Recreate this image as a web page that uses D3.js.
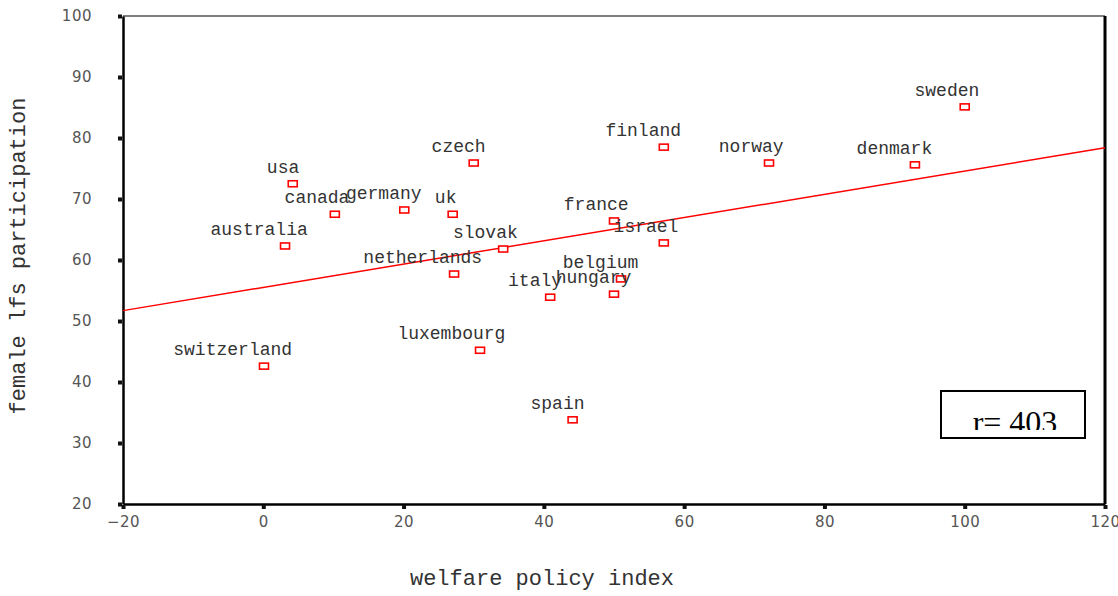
<!DOCTYPE html>
<html>
<head>
<meta charset="utf-8">
<script src="https://cdn.jsdelivr.net/npm/d3@7"></script>
<style>
  body { margin: 0; background: #fff; }
  svg { display: block; }
</style>
</head>
<body>
<script>
'use strict';

// countries and their values
var countries = ["sweden", "denmark", "norway", "finland", "czech", "usa", "canada", "germany", "uk",
                 "australia", "slovak", "france", "israel", "netherlands", "belgium", "italy",
                 "hungary", "luxembourg", "switzerland", "spain"];
var welfare = [100.0, 92.9, 72.1, 57.1, 30.0, 4.2, 10.2, 20.1, 27.0,
               3.1, 34.2, 50.0, 57.1, 27.2, 51.0, 40.9,
               50.0, 30.9, 0.1, 44.1];
var femaleLfs = [85.1, 75.6, 75.9, 78.5, 75.9, 72.5, 67.5, 68.2, 67.5,
                 62.3, 61.8, 66.4, 62.8, 57.7, 56.9, 53.9,
                 54.4, 45.2, 42.6, 33.8];

// fitted line, ends read at the plot edges
var fitX = [-20, 120];
var fitY = [51.7, 78.4];

var xTicks = [-20, 0, 20, 40, 60, 80, 100, 120];
var yTicks = [20, 30, 40, 50, 60, 70, 80, 90, 100];
var rLabel = "r= 403";

var data = countries.map(function(c, i) { return {name: c, x: welfare[i], y: femaleLfs[i]}; });

var svg = d3.select("body").append("svg")
    .attr("width", 1118)
    .attr("height", 596);

var margin = {top: 16, right: 13, bottom: 92, left: 123},
    width = 1118 - margin.left - margin.right,
    height = 596 - margin.top - margin.bottom;

var g = svg.append("g")
    .attr("transform", "translate(" + margin.left + "," + margin.top + ")");

var xScale = d3.scaleLinear().domain([-20, 120]).range([0, width]);
var yScale = d3.scaleLinear().domain([20, 100]).range([height, 0]);

// frame: thin top, thick right
g.append("line")
    .attr("x1", 0).attr("x2", width).attr("y1", 0).attr("y2", 0)
    .attr("stroke", "#555").attr("stroke-width", 1.5);
g.append("line")
    .attr("x1", width).attr("x2", width).attr("y1", 0).attr("y2", height)
    .attr("stroke", "#000").attr("stroke-width", 3);

// axes
var xAxis = g.append("g")
    .attr("transform", "translate(0," + height + ")")
    .call(d3.axisBottom(xScale).tickValues(xTicks).tickSize(0).tickPadding(12).tickFormat(d3.format("d")));
var yAxis = g.append("g")
    .call(d3.axisLeft(yScale).tickValues(yTicks).tickSize(0).tickPadding(31).tickFormat(d3.format("d")));

[xAxis, yAxis].forEach(function(ax) {
    ax.select(".domain").attr("stroke", "#000").attr("stroke-width", 2.5);
    ax.selectAll("text")
        .attr("font-family", "'DejaVu Sans', sans-serif")
        .attr("font-size", 15)
        .attr("fill", "#555")
        .attr("letter-spacing", 0.5);
});

// small square tick marks
xAxis.selectAll(".tick").append("rect")
    .attr("x", -2).attr("y", 1).attr("width", 4).attr("height", 4).attr("fill", "#111");
yAxis.selectAll(".tick").append("rect")
    .attr("x", -5).attr("y", -2).attr("width", 4).attr("height", 4).attr("fill", "#111");

// axis titles
svg.append("text")
    .attr("x", 542)
    .attr("y", 585)
    .attr("text-anchor", "middle")
    .attr("font-family", "'Liberation Mono', monospace")
    .attr("font-size", 22)
    .attr("fill", "#333")
    .text("welfare policy index");

svg.append("text")
    .attr("transform", "translate(25," + (margin.top + yScale(60) - 4) + ") rotate(-90)")
    .attr("text-anchor", "middle")
    .attr("font-family", "'Liberation Mono', monospace")
    .attr("font-size", 22)
    .attr("fill", "#333")
    .text("female lfs participation");

// fit line
g.append("line")
    .attr("x1", xScale(fitX[0])).attr("y1", yScale(fitY[0]))
    .attr("x2", xScale(fitX[1])).attr("y2", yScale(fitY[1]))
    .attr("stroke", "red").attr("stroke-width", 1.5);

// point markers
g.selectAll(".pt")
    .data(data)
    .enter().append("rect")
    .attr("class", "pt")
    .attr("x", function(d) { return xScale(d.x) - 4.5; })
    .attr("y", function(d) { return yScale(d.y) - 3; })
    .attr("width", 9)
    .attr("height", 6)
    .attr("fill", "#fff")
    .attr("stroke", "red")
    .attr("stroke-width", 1.6);

// labels sit above and a bit left of their marker
var labels = g.selectAll(".lab")
    .data(data)
    .enter().append("text")
    .attr("class", "lab")
    .attr("font-family", "'Liberation Mono', monospace")
    .attr("font-size", 18)
    .attr("fill", "#333")
    .attr("y", function(d) { return yScale(d.y) - 11; })
    .text(function(d) { return d.name; });
labels.attr("x", function(d) {
    var w = this.getComputedTextLength();
    return xScale(d.x) - 1.6 - 0.75 * w;
});

// r box, text clipped short of the bottom edge
var box = {x: 818, y: 375, w: 144, h: 47};
svg.append("clipPath").attr("id", "rclip")
    .append("rect").attr("x", box.x).attr("y", box.y).attr("width", box.w).attr("height", box.h - 8);
g.append("text")
    .attr("clip-path", "url(#rclip)")
    .attr("x", box.x + box.w / 2 + 2)
    .attr("y", box.y + 41.5)
    .attr("text-anchor", "middle")
    .attr("font-family", "'Liberation Serif', serif")
    .attr("font-size", 32)
    .attr("fill", "#000")
    .text(rLabel);
g.append("rect")
    .attr("x", box.x).attr("y", box.y).attr("width", box.w).attr("height", box.h)
    .attr("fill", "none").attr("stroke", "#000").attr("stroke-width", 2);
</script>
</body>
</html>
